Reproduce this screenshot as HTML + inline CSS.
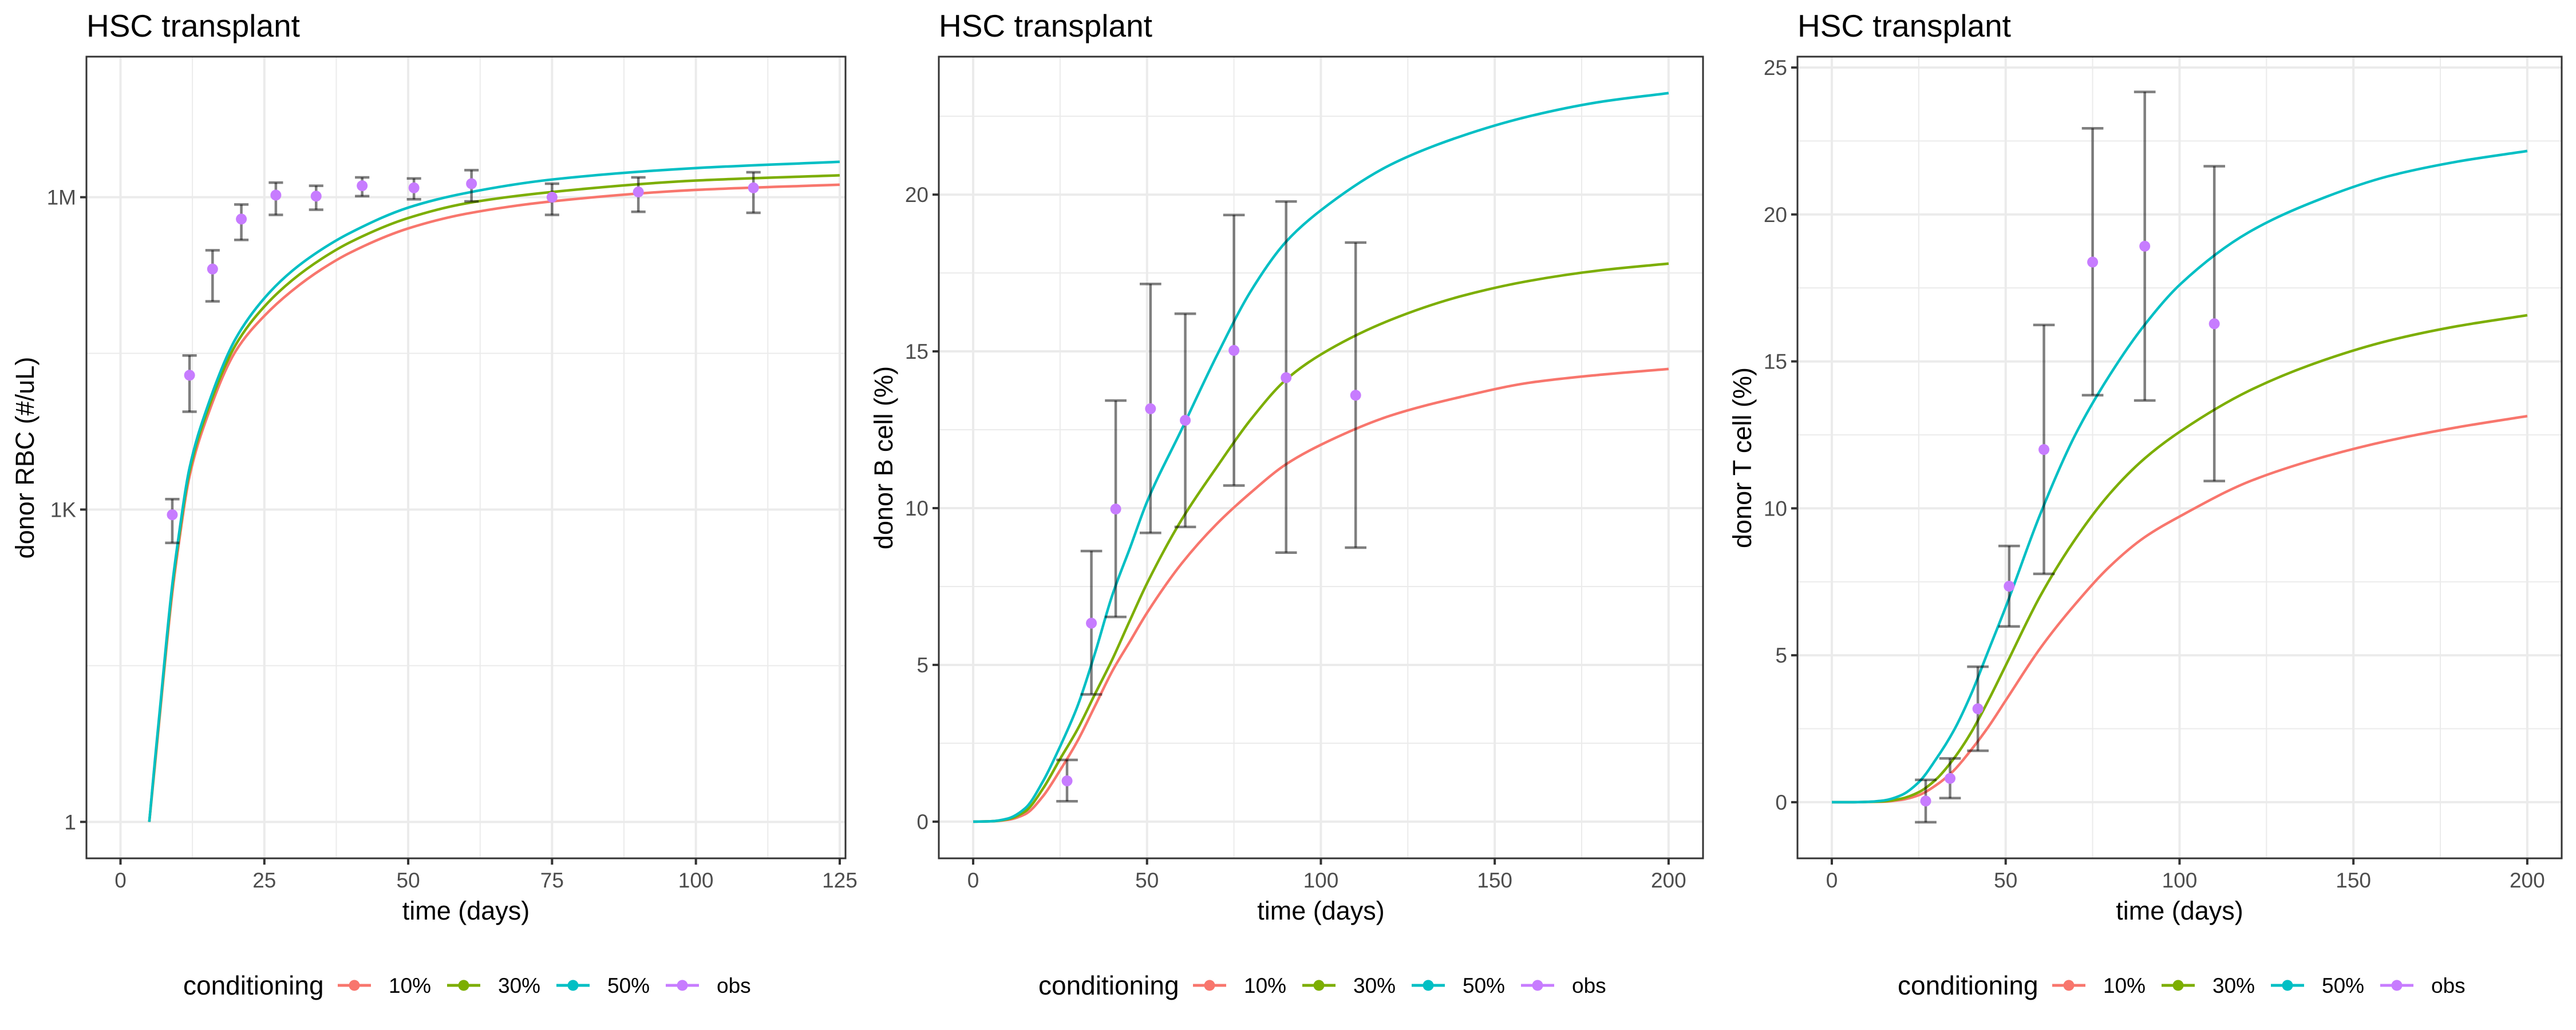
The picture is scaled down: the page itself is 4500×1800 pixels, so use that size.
<!DOCTYPE html>
<html><head><meta charset="utf-8">
<style>
html,body{margin:0;padding:0;background:#fff;}
svg{display:block;font-family:"Liberation Sans",Arial,sans-serif;}
</style></head>
<body>
<svg id="chart" width="4500" height="1800" viewBox="0 0 4500 1800" xmlns="http://www.w3.org/2000/svg"></svg>
<script>
// ---------- Panel 1 data (RBC, log10 values) ----------
const rbcTimes = [5,6,7,8,9,10,12,15,20,25,30,35,40,50,60,75,100,125];
const rbc10 = [0,0.55,1.12,1.68,2.2,2.62,3.32,3.88,4.52,4.86,5.11,5.31,5.47,5.70,5.84,5.96,6.07,6.12];
const rbc30 = [0,0.58,1.15,1.72,2.25,2.67,3.37,3.93,4.58,4.95,5.21,5.41,5.57,5.80,5.94,6.05,6.16,6.21];
const rbc50 = [0,0.6,1.17,1.75,2.28,2.7,3.40,3.97,4.64,5.03,5.30,5.50,5.66,5.90,6.04,6.17,6.28,6.34];
const rbcObsT = [9,12,16,21,27,34,42,51,61,75,90,110];
const rbcObs = [2.95,4.29,5.31,5.79,6.02,6.01,6.11,6.09,6.13,6.00,6.05,6.09];
const rbcObsHi = [3.10,4.48,5.49,5.93,6.14,6.11,6.19,6.18,6.26,6.13,6.19,6.24];
const rbcObsLo = [2.68,3.94,5.00,5.59,5.83,5.88,6.01,5.98,5.96,5.83,5.86,5.85];
const rbcTickVals = [0,3,6];
const rbcTickLabels = ["1","1K","1M"];
const rbcXTicks = [0,25,50,75,100,125];

// ---------- Panel 2 data (B cell %) ----------
const simTimes = [0,5,10,15,20,25,30,35,40,45,50,60,70,80,90,100,120,140,160,180,200];
const b10 = [0,0.01,0.06,0.24,0.8,1.64,2.57,3.68,4.8,5.73,6.66,8.24,9.49,10.51,11.4,12.02,12.95,13.54,14.0,14.25,14.44];
const b30 = [0,0.01,0.08,0.33,1.04,2.0,2.94,4.06,5.17,6.4,7.6,9.64,11.3,12.85,14.1,14.9,16.0,16.75,17.25,17.58,17.8];
const b50 = [0,0.01,0.1,0.43,1.27,2.4,3.68,5.36,7.22,8.7,10.2,12.52,14.85,16.95,18.5,19.5,20.95,21.85,22.5,22.95,23.24];
const bObsT = [27,34,41,51,61,75,90,110];
const bObs = [1.30,6.33,9.97,13.17,12.80,15.03,14.16,13.60];
const bObsHi = [1.97,8.63,13.43,17.15,16.2,19.35,19.78,18.47];
const bObsLo = [0.65,4.06,6.53,9.21,9.40,10.72,8.58,8.74];
const bTicks = [0,5,10,15,20];

// ---------- Panel 3 data (T cell %) ----------
const t10 = [0,0,0.01,0.02,0.08,0.24,0.58,1.07,1.77,2.56,3.46,5.25,6.74,8.03,9.02,9.72,10.91,11.7,12.3,12.76,13.14];
const t30 = [0,0,0.01,0.03,0.12,0.34,0.78,1.47,2.36,3.46,4.65,7.03,8.95,10.51,11.7,12.6,14.0,14.98,15.7,16.2,16.57];
const t50 = [0,0,0.01,0.06,0.24,0.68,1.47,2.42,3.66,5.15,6.64,9.82,12.5,14.55,16.25,17.6,19.4,20.5,21.3,21.8,22.16];
const tObsT = [27,34,42,51,61,75,90,110];
const tObs = [0.04,0.81,3.18,7.35,12.0,18.38,18.92,16.28];
const tObsHi = [0.76,1.49,4.61,8.72,16.24,22.93,24.17,21.64];
const tObsLo = [-0.68,0.14,1.75,5.98,7.77,13.85,13.67,10.93];
const tTicks = [0,5,10,15,20,25];
const xTicks200 = [0,50,100,150,200];

const legendLabels = ["10%","30%","50%","obs"];
const COLORS = ["#F8766D","#7CAE00","#00BFC4","#C77CFF"];
const NS = "http://www.w3.org/2000/svg";
const svg = document.getElementById("chart");

function mk(tag, attrs, parent){
  const e = document.createElementNS(NS, tag);
  for (const k in attrs) e.setAttribute(k, attrs[k]);
  (parent||svg).appendChild(e);
  return e;
}
// monotone cubic (Fritsch-Carlson) path
function smoothPath(pts){
  const n = pts.length;
  const dx=[], dy=[], m=[];
  for (let i=0;i<n-1;i++){ dx.push(pts[i+1][0]-pts[i][0]); dy.push(pts[i+1][1]-pts[i][1]); m.push(dy[i]/dx[i]); }
  const t=[m[0]];
  for (let i=1;i<n-1;i++){
    if (m[i-1]*m[i] <= 0) t.push(0);
    else { const w1=2*dx[i]+dx[i-1], w2=dx[i]+2*dx[i-1]; t.push((w1+w2)/(w1/m[i-1]+w2/m[i])); }
  }
  t.push(m[n-2]);
  let d = "M"+pts[0][0].toFixed(1)+","+pts[0][1].toFixed(1);
  for (let i=0;i<n-1;i++){
    const h=dx[i]/3;
    d += " C"+(pts[i][0]+h).toFixed(1)+","+(pts[i][1]+t[i]*h).toFixed(1)+" "+(pts[i+1][0]-h).toFixed(1)+","+(pts[i+1][1]-t[i+1]*h).toFixed(1)+" "+pts[i+1][0].toFixed(1)+","+pts[i+1][1].toFixed(1);
  }
  return d;
}

function panel(cfg){
  const g = mk("g", {});
  
  
  const L=cfg.left, R=cfg.right, T=99, B=1500;
  const xs = v => L + (v - cfg.xmin)/(cfg.xmax-cfg.xmin)*(R-L);
  const ys = v => B - (v - cfg.ymin)/(cfg.ymax-cfg.ymin)*(B-T);
  cfg.xMinor.forEach(v=>{ const l=mk("line",{x1:xs(v),x2:xs(v),y1:T,y2:B,stroke:"#EBEBEB","stroke-width":2},g);
      });
  cfg.yMinor.forEach(v=>{ const l=mk("line",{x1:L,x2:R,y1:ys(v),y2:ys(v),stroke:"#EBEBEB","stroke-width":2},g);
      });
  cfg.xTicks.forEach(v=>{ const l=mk("line",{x1:xs(v),x2:xs(v),y1:T,y2:B,stroke:"#EBEBEB","stroke-width":4},g);
      });
  cfg.yTicks.forEach(v=>{ const l=mk("line",{x1:L,x2:R,y1:ys(v),y2:ys(v),stroke:"#EBEBEB","stroke-width":4},g);
      });
  const clip = mk("clipPath",{id:cfg.name+"-clip"},g);
  mk("rect",{x:L,y:T,width:R-L,height:B-T},clip);
  cfg.series.forEach((s,i)=>{
    const pts = cfg.simT.map((t,j)=>[xs(t), ys(s[j])]);
    const p = mk("path",{d:smoothPath(pts),fill:"none",stroke:COLORS[i],"stroke-width":4.5,"clip-path":"url(#"+cfg.name+"-clip)"},g);
    
    
  });
  const cw = cfg.capDays;
  cfg.obsT.forEach((t,j)=>{
    const eg = mk("g",{stroke:"#000","stroke-opacity":0.5,"stroke-width":4.5},g);
    
    
    mk("line",{x1:xs(t),x2:xs(t),y1:ys(cfg.obsHi[j]),y2:ys(cfg.obsLo[j])},eg);
    mk("line",{x1:xs(t-cw),x2:xs(t+cw),y1:ys(cfg.obsHi[j]),y2:ys(cfg.obsHi[j])},eg);
    mk("line",{x1:xs(t-cw),x2:xs(t+cw),y1:ys(cfg.obsLo[j]),y2:ys(cfg.obsLo[j])},eg);
  });
  cfg.obsT.forEach((t,j)=>{
    const c = mk("circle",{cx:xs(t),cy:ys(cfg.obs[j]),r:9.5,fill:COLORS[3]},g);
    
    
  });
  const br = mk("rect",{x:L,y:T,width:R-L,height:B-T,fill:"none",stroke:"#333333","stroke-width":3},g);
   
  cfg.xTicks.forEach(v=>{
    const l=mk("line",{x1:xs(v),x2:xs(v),y1:B,y2:B+11,stroke:"#333","stroke-width":4},g);
     
    const tx=mk("text",{x:xs(v),y:1551,"text-anchor":"middle","font-size":37,fill:"#4D4D4D"},g);
    tx.textContent=String(v);
     
  });
  cfg.yTicks.forEach((v,i)=>{
    const l=mk("line",{x1:L-11,x2:L,y1:ys(v),y2:ys(v),stroke:"#333","stroke-width":4},g);
     
    const tx=mk("text",{x:L-18,y:ys(v)+13,"text-anchor":"end","font-size":37,fill:"#4D4D4D"},g);
    tx.textContent=cfg.yLabels ? cfg.yLabels[i] : String(v);
     
  });
  const ti=mk("text",{x:L,y:64,"font-size":55,fill:"#000"},g);
  ti.textContent="HSC transplant";
   
  const xt=mk("text",{x:(L+R)/2,y:1607,"text-anchor":"middle","font-size":45,fill:"#000"},g);
  xt.textContent="time (days)";
   
  const yt=mk("text",{x:0,y:0,"text-anchor":"middle","font-size":45,fill:"#000",transform:"translate("+(cfg.yTitleX)+",800) rotate(-90)"},g);
  yt.textContent=cfg.yTitle;
   
  const lg = mk("g",{},g);
   
  const lx = cfg.legendX, ly = 1722;
  const lt=mk("text",{x:lx,y:ly+16,"font-size":46,fill:"#000"},lg);
  lt.textContent="conditioning";
   
  legendLabels.forEach((lab,i)=>{
    const kx = lx + 299 + i*191;
    const e = mk("g",{},lg);
    
    
    mk("line",{x1:kx-29,x2:kx+29,y1:ly,y2:ly,stroke:COLORS[i],"stroke-width":5},e);
    mk("circle",{cx:kx,cy:ly,r:9.5,fill:COLORS[i]},e);
    const t=mk("text",{x:kx+60,y:ly+13,"font-size":37,fill:"#000"},e);
    t.textContent=lab;
  });
}

panel({name:"rbc-panel",left:151,right:1477,xmin:-5.92,xmax:126.0,ymin:-0.35,ymax:7.35,
  xTicks:rbcXTicks,xMinor:[12.5,37.5,62.5,87.5,112.5],yTicks:rbcTickVals,yLabels:rbcTickLabels,yMinor:[1.5,4.5],
  simT:rbcTimes,series:[rbc10,rbc30,rbc50],obsT:rbcObsT,obs:rbcObs,obsHi:rbcObsHi,obsLo:rbcObsLo,capDays:1.25,
  yTitle:"donor RBC (#/uL)",yTitleX:59,legendX:320});
panel({name:"bcell-panel",left:1640,right:2975,xmin:-9.88,xmax:209.9,ymin:-1.17,ymax:24.4,
  xTicks:xTicks200,xMinor:[25,75,125,175],yTicks:bTicks,yMinor:[2.5,7.5,12.5,17.5,22.5],
  simT:simTimes,series:[b10,b30,b50],obsT:bObsT,obs:bObs,obsHi:bObsHi,obsLo:bObsLo,capDays:3.1,
  yTitle:"donor B cell (%)",yTitleX:1559,legendX:1814});
panel({name:"tcell-panel",left:3140,right:4475,xmin:-9.88,xmax:209.9,ymin:-1.91,ymax:25.37,
  xTicks:xTicks200,xMinor:[25,75,125,175],yTicks:tTicks,yMinor:[2.5,7.5,12.5,17.5,22.5],
  simT:simTimes,series:[t10,t30,t50],obsT:tObsT,obs:tObs,obsHi:tObsHi,obsLo:tObsLo,capDays:3.1,
  yTitle:"donor T cell (%)",yTitleX:3059,legendX:3315});
</script>
</body></html>
